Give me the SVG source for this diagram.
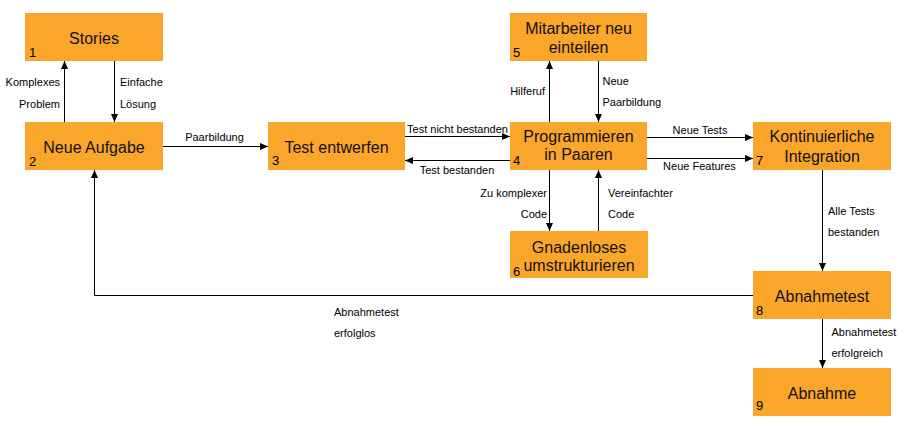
<svg xmlns="http://www.w3.org/2000/svg" width="904" height="426" viewBox="0 0 904 426">
<style>
.box{fill:#F9A62B}
.t{font-family:"Liberation Sans",Arial,sans-serif;font-size:16px;fill:#111;text-anchor:middle}
.n{font-family:"Liberation Sans",Arial,sans-serif;font-size:13px;fill:#000}
.l{font-family:"Liberation Sans",Arial,sans-serif;font-size:11px;fill:#000}
.e{text-anchor:end}
.m{text-anchor:middle}
.c{fill:none;stroke:#000;stroke-width:1;marker-end:url(#ah)}
</style>
<defs>
<marker id="ah" markerWidth="8" markerHeight="7" refX="8" refY="3.5" orient="auto" markerUnits="userSpaceOnUse">
<path d="M0,0 L8,3.5 L0,7 z" fill="#000"/>
</marker>
</defs>
<rect width="904" height="426" fill="#fff"/>
<g id="connectors">
<path class="c" d="M64.5,122 V61"/>
<path class="c" d="M114.5,61 V122"/>
<path class="c" d="M163,146.5 H268"/>
<path class="c" d="M405,136.5 H510"/>
<path class="c" d="M510,160.5 H405"/>
<path class="c" d="M549.5,122 V61"/>
<path class="c" d="M598.5,61 V122"/>
<path class="c" d="M647,137.5 H753"/>
<path class="c" d="M647,158.5 H753"/>
<path class="c" d="M549.5,170 V231"/>
<path class="c" d="M598.5,231 V170"/>
<path class="c" d="M822.5,170 V271"/>
<path class="c" d="M753,295.5 H94.5 V170"/>
<path class="c" d="M822.5,319 V368"/>
<text class="l e" x="60" y="86">Komplexes</text>
<text class="l e" x="60" y="107.5">Problem</text>
<text class="l" x="120" y="86">Einfache</text>
<text class="l" x="120" y="107.5">Lösung</text>
<text class="l m" x="214.5" y="140.5">Paarbildung</text>
<text class="l m" x="457.5" y="132.5">Test nicht bestanden</text>
<text class="l m" x="457" y="173.5">Test bestanden</text>
<text class="l e" x="545" y="95">Hilferuf</text>
<text class="l" x="602.5" y="84.5">Neue</text>
<text class="l" x="602.5" y="105.5">Paarbildung</text>
<text class="l m" x="700" y="134">Neue Tests</text>
<text class="l m" x="699.5" y="169.5">Neue Features</text>
<text class="l e" x="547" y="196.5">Zu komplexer</text>
<text class="l e" x="547" y="217.5">Code</text>
<text class="l" x="608" y="196.5">Vereinfachter</text>
<text class="l" x="608" y="217.5">Code</text>
<text class="l" x="828" y="214.5">Alle Tests</text>
<text class="l" x="828" y="235.5">bestanden</text>
<text class="l" x="334" y="315.5">Abnahmetest</text>
<text class="l" x="334" y="336.5">erfolglos</text>
<text class="l" x="831.5" y="336">Abnahmetest</text>
<text class="l" x="831.5" y="357">erfolgreich</text>
</g>
<g id="n1"><rect class="box" x="25" y="13" width="138" height="48"/><text class="t" x="94" y="44">Stories</text><text class="n" x="29" y="57">1</text></g>
<g id="n2"><rect class="box" x="25" y="122" width="138" height="48"/><text class="t" x="94" y="152.5">Neue Aufgabe</text><text class="n" x="29" y="166">2</text></g>
<g id="n3"><rect class="box" x="268" y="122" width="137" height="48"/><text class="t" x="336.5" y="152.5">Test entwerfen</text><text class="n" x="272" y="164.5">3</text></g>
<g id="n4"><rect class="box" x="510" y="122" width="137" height="48"/><text class="t" x="578.5" y="141.5">Programmieren</text><text class="t" x="578.5" y="160">in Paaren</text><text class="n" x="513" y="164.5">4</text></g>
<g id="n5"><rect class="box" x="510" y="13" width="137" height="48"/><text class="t" x="578.5" y="33.5">Mitarbeiter neu</text><text class="t" x="578.5" y="52.5">einteilen</text><text class="n" x="513" y="57">5</text></g>
<g id="n6"><rect class="box" x="510" y="231" width="138" height="47"/><text class="t" x="579" y="252.5">Gnadenloses</text><text class="t" x="579" y="271">umstrukturieren</text><text class="n" x="513" y="275.5">6</text></g>
<g id="n7"><rect class="box" x="753" y="122" width="138" height="48"/><text class="t" x="822" y="142">Kontinuierliche</text><text class="t" x="822" y="161.5">Integration</text><text class="n" x="756" y="165">7</text></g>
<g id="n8"><rect class="box" x="753" y="271" width="138" height="48"/><text class="t" x="822" y="301.5">Abnahmetest</text><text class="n" x="756" y="315">8</text></g>
<g id="n9"><rect class="box" x="753" y="368" width="138" height="48"/><text class="t" x="822" y="398.5">Abnahme</text><text class="n" x="756" y="410">9</text></g>
</svg>
